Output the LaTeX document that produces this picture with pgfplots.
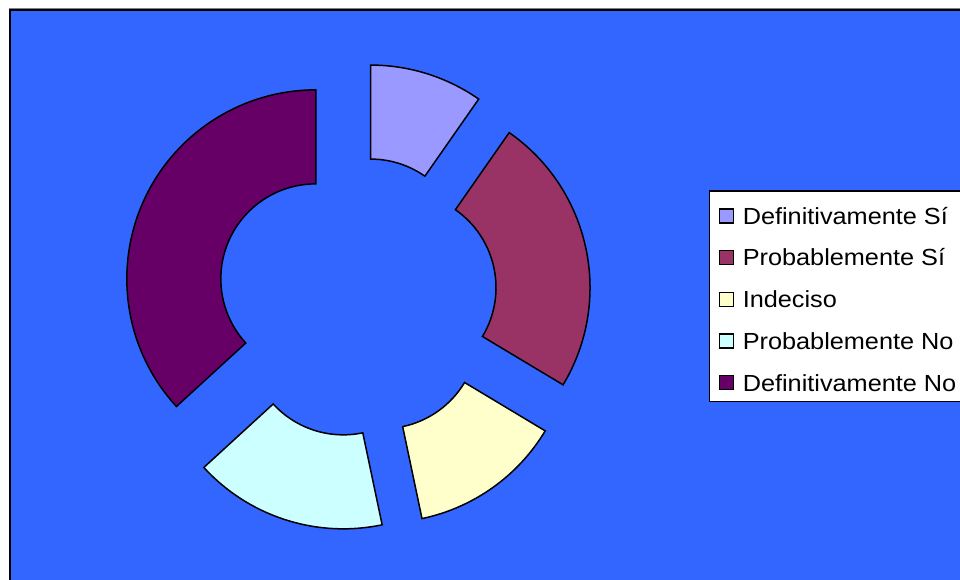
\documentclass[border=0pt]{standalone}
\usepackage{pgfplots}
\usepackage{pgfplotstable}
\pgfplotsset{compat=1.18}
\usepackage{fontspec}
\newfontfamily\lsans[FakeStretch=1.085]{Liberation Sans}
\newcommand\legfont{\fontsize{23.3}{28}\selectfont\lsans}
\definecolor{bg}{HTML}{3366FF}
\definecolor{c1}{HTML}{9999FF}
\definecolor{c2}{HTML}{993366}
\definecolor{c3}{HTML}{FFFFCC}
\definecolor{c4}{HTML}{CCFFFF}
\definecolor{c5}{HTML}{660066}

% share of answers, percent (clockwise from 12 o'clock)
\pgfplotstableread{
value
9.7
23.9
13.1
16.5
36.8
}\donut

\begin{document}
\begin{tikzpicture}
\useasboundingbox (0,0) rectangle (960pt,580pt);
\clip (0,0) rectangle (960pt,580pt);
\begin{axis}[
  x=1pt, y=1pt, xmin=0, xmax=960, ymin=0, ymax=580,
  hide axis, clip=false,
  legend image code/.code={\draw[#1, draw=black, line width=1.3pt] (0pt,-10pt) rectangle (14pt,4pt);},
  legend cell align=left,
  legend style={at={(709.3/960,389/580)}, anchor=north west, outer sep=0pt,
    draw=black, line width=1.5pt, fill=white, font=\legfont,
    inner xsep=9.4pt, inner ysep=10.6pt, row sep=19pt, column sep=8.75pt,
    nodes={inner sep=0pt, text height=22.7pt, text depth=0pt}},
]
\fill[white] (axis cs:0,0) rectangle (axis cs:960,580);
\fill[bg] (axis cs:10,0) rectangle (axis cs:960,570);
\draw[gray, line width=1pt] (axis cs:9,571.5) -- (axis cs:960,571.5);
\draw[black, line width=2pt] (axis cs:10,-2) -- (axis cs:10,570) -- (axis cs:962,570);

\xdef\acc{90}
\pgfplotsforeachungrouped \i in {0,...,4}{%
  \pgfplotstablegetelem{\i}{value}\of\donut
  \pgfmathsetmacro\aone{\acc}%
  \pgfmathsetmacro\atwo{\acc-3.6*\pgfplotsretval}%
  \pgfmathsetmacro\amid{(\aone+\atwo)/2}%
  \pgfmathsetmacro\sx{357+45*cos(\amid)}%
  \pgfmathsetmacro\sy{283+45*sin(\amid)}%
  \pgfmathsetmacro\ox{\sx+189*cos(\aone)}%
  \pgfmathsetmacro\oy{\sy+189*sin(\aone)}%
  \pgfmathsetmacro\ix{\sx+95*cos(\atwo)}%
  \pgfmathsetmacro\iy{\sy+95*sin(\atwo)}%
  \pgfmathtruncatemacro\k{\i+1}%
  \edef\temp{\noexpand\filldraw[fill=c\k, draw=black, line width=1.5pt, line join=miter]
    (axis cs:\ox,\oy) arc[start angle=\aone, end angle=\atwo, radius=189pt]
    -- (axis cs:\ix,\iy) arc[start angle=\atwo, end angle=\aone, radius=95pt] -- cycle;}%
  \temp
  \xdef\acc{\atwo}%
}

\addlegendimage{fill=c1}
\addlegendentry{Definitivamente Sí}
\addlegendimage{fill=c2}
\addlegendentry{Probablemente Sí}
\addlegendimage{fill=c3}
\addlegendentry{Indeciso}
\addlegendimage{fill=c4}
\addlegendentry{Probablemente No}
\addlegendimage{fill=c5}
\addlegendentry{Definitivamente No}
\end{axis}
\end{tikzpicture}
\end{document}
